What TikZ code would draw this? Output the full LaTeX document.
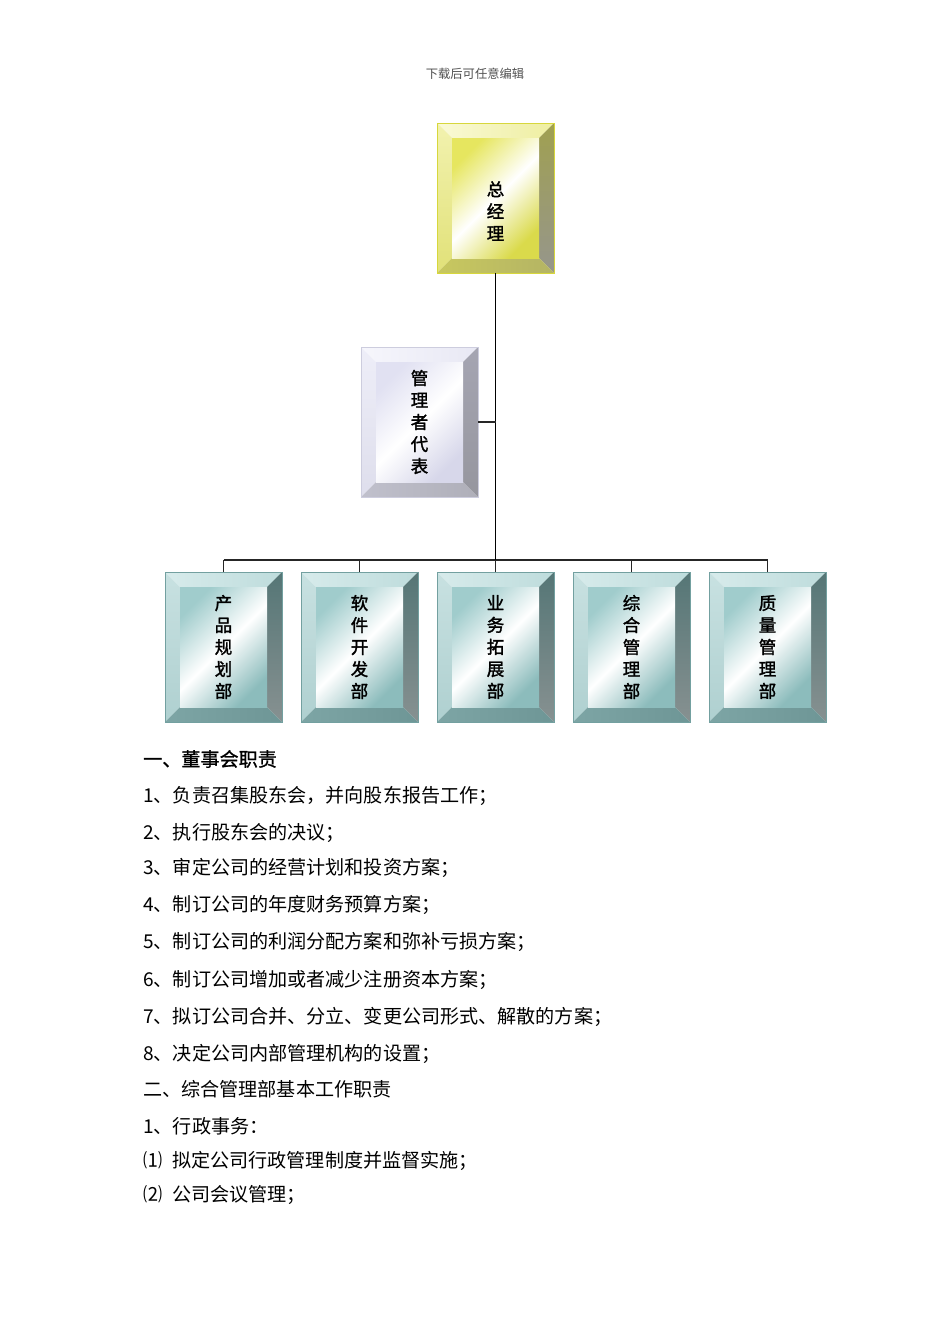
\documentclass[tikz,border=0pt]{standalone}
\usepackage{fontspec}
\setmainfont{Noto Sans CJK SC}
\newfontfamily\boxfam[FakeBold=1.6]{Noto Sans CJK SC}
\newfontfamily\headfam[FakeBold=1.0]{Noto Sans CJK SC}
\newcommand\boxfont{\boxfam\fontsize{17.5}{22}\selectfont}
\newcommand\bodyfont{\fontsize{19.1}{21}\selectfont}
\newcommand\hdrfont{\fontsize{12.3}{14}\selectfont}
% yellow
\definecolor{yTopA}{RGB}{250,250,215}\definecolor{yTopB}{RGB}{238,238,160}
\definecolor{yLeftA}{RGB}{242,242,175}\definecolor{yLeftB}{RGB}{225,225,120}
\definecolor{yRightA}{RGB}{160,160,80}\definecolor{yRightB}{RGB}{150,150,140}
\definecolor{yBotA}{RGB}{200,200,95}\definecolor{yBotB}{RGB}{180,180,100}
\definecolor{yFace}{RGB}{230,230,95}\definecolor{yFaceB}{RGB}{218,218,75}
\definecolor{yEdge}{RGB}{215,215,60}
% lavender grey
\definecolor{gTopA}{RGB}{246,246,252}\definecolor{gTopB}{RGB}{232,232,244}
\definecolor{gLeftA}{RGB}{238,238,248}\definecolor{gLeftB}{RGB}{222,222,236}
\definecolor{gRightA}{RGB}{165,165,178}\definecolor{gRightB}{RGB}{150,150,158}
\definecolor{gBotA}{RGB}{192,192,204}\definecolor{gBotB}{RGB}{175,175,185}
\definecolor{gFace}{RGB}{225,225,242}\definecolor{gFaceB}{RGB}{215,215,234}
\definecolor{gEdge}{RGB}{205,205,222}
% teal
\definecolor{tTopA}{RGB}{215,235,235}\definecolor{tTopB}{RGB}{190,220,220}
\definecolor{tLeftA}{RGB}{200,225,225}\definecolor{tLeftB}{RGB}{175,208,208}
\definecolor{tRightA}{RGB}{85,118,118}\definecolor{tRightB}{RGB}{135,145,145}
\definecolor{tBotA}{RGB}{125,165,165}\definecolor{tBotB}{RGB}{110,150,150}
\definecolor{tFace}{RGB}{160,204,204}\definecolor{tFaceB}{RGB}{140,188,188}
\definecolor{tEdge}{RGB}{115,160,160}
\definecolor{hdrgray}{RGB}{80,80,80}
\begin{document}
\begin{tikzpicture}[x=1pt,y=-1pt,
  bevelbox/.style={rectangle, minimum width=117pt, minimum height=150pt,
    inner sep=0pt, draw=#1Edge, line width=0.6pt, align=center, font=\boxfont,
    path picture={
      \coordinate (pNW) at (path picture bounding box.north west);
      \coordinate (pNE) at (path picture bounding box.north east);
      \coordinate (pSW) at (path picture bounding box.south west);
      \coordinate (pSE) at (path picture bounding box.south east);
      \coordinate (qNW) at ([shift={(15pt,-15pt)}]pNW);
      \coordinate (qNE) at ([shift={(-15pt,-15pt)}]pNE);
      \coordinate (qSW) at ([shift={(15pt,15pt)}]pSW);
      \coordinate (qSE) at ([shift={(-15pt,15pt)}]pSE);
      \shade[left color=#1TopA, right color=#1TopB] (pNW) -- (pNE) -- (qNE) -- (qNW) -- cycle;
      \shade[top color=#1LeftA, bottom color=#1LeftB] (pNW) -- (qNW) -- (qSW) -- (pSW) -- cycle;
      \shade[top color=#1RightA, bottom color=#1RightB] (pNE) -- (pSE) -- (qSE) -- (qNE) -- cycle;
      \shade[left color=#1BotA, right color=#1BotB] (pSW) -- (qSW) -- (qSE) -- (pSE) -- cycle;
      \shade[top color=#1Face, bottom color=#1FaceB, middle color=white, shading angle=45] (qNW) rectangle (qSE);
    }},
  boxtext/.style={align=center, font=\boxfont, inner sep=0pt},
  trunk/.style={line width=1.8pt, black},
  conn/.style={line width=1.3pt, black!85},
  body/.style={anchor=west, inner sep=0pt, font=\bodyfont},
  hdr/.style={inner sep=0pt, font=\hdrfont, text=hdrgray}]
\useasboundingbox (0,0) rectangle (950,1344);
\fill[white] (0,0) rectangle (950,1344);

\node[hdr] (hdr) at (475,74) {下载后可任意编辑};

% boxes
\node[bevelbox=y, label={[boxtext, yshift=-13pt, name=gmt]center:总\\经\\理}] (gm) at (495.5,198) {};
\node[bevelbox=g] (rep) at (419.5,422) {管\\理\\者\\代\\表};
\node[bevelbox=t] (d1) at (223.5,647) {产\\品\\规\\划\\部};
\node[bevelbox=t] (d2) at (359.5,647) {软\\件\\开\\发\\部};
\node[bevelbox=t] (d3) at (495.5,647) {业\\务\\拓\\展\\部};
\node[bevelbox=t] (d4) at (631.5,647) {综\\合\\管\\理\\部};
\node[bevelbox=t] (d5) at (767.5,647) {质\\量\\管\\理\\部};

% connectors
\coordinate (busM) at (495.5,560);
\draw[conn] (d1.north |- busM) -- (d5.north |- busM);
\draw[trunk] (gm.south) -- (busM);
\foreach \d in {d1,d2,d3,d4,d5} {
  \draw[conn] (\d.north |- busM) -- (\d.north);
}
\draw[conn] (rep.east) -- (rep.east -| gm.south);

% body text
\node[body, font=\headfam\fontsize{19.1}{21}\selectfont] (h1) at (143,759) {一、董事会职责};
\node[body] (l1) at (143,796) {1、负责召集股东会，并向股东报告工作；};
\node[body] (l2) at (143,833) {2、执行股东会的决议；};
\node[body] (l3) at (143,868) {3、审定公司的经营计划和投资方案；};
\node[body] (l4) at (143,905) {4、制订公司的年度财务预算方案；};
\node[body] (l5) at (143,942) {5、制订公司的利润分配方案和弥补亏损方案；};
\node[body] (l6) at (143,980) {6、制订公司增加或者减少注册资本方案；};
\node[body] (l7) at (143,1017) {7、拟订公司合并、分立、变更公司形式、解散的方案；};
\node[body] (l8) at (143,1054) {8、决定公司内部管理机构的设置；};
\node[body] (h2) at (143,1089) {二、综合管理部基本工作职责};
\node[body] (m1) at (143,1126) {1、行政事务：};
\node[body] (m2) at (143,1161) {⑴\hspace{10pt}拟定公司行政管理制度并监督实施；};
\node[body] (m3) at (143,1195) {⑵\hspace{10pt}公司会议管理；};
\end{tikzpicture}
\end{document}
